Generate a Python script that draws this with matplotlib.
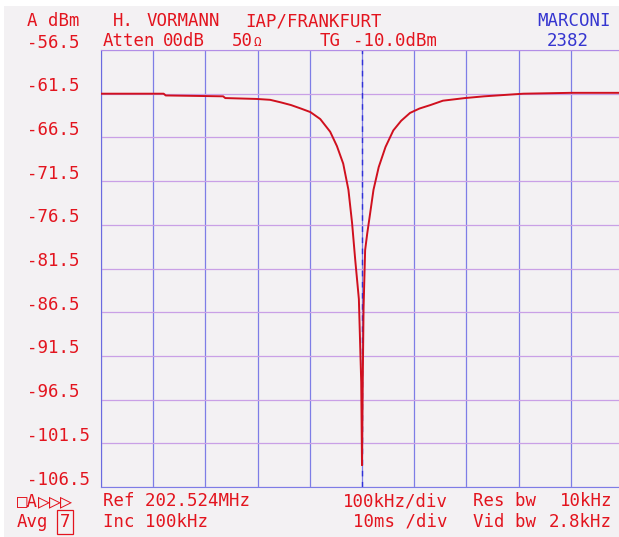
import matplotlib
matplotlib.use('Agg')
import matplotlib.pyplot as plt
from matplotlib.patches import Rectangle

# trace: offset from Ref (kHz) and level (dBm)
offset_khz = [-500, -380, -376, -266, -262, -202, -176, -155, -136, -117, -99,
              -80, -61, -48, -36, -26, -19, -13, -6, -1.5, 0,
              1.5, 3, 6, 10, 14.6, 22, 32, 45, 60, 75, 92, 110, 131, 155,
              197, 234, 309, 401, 500]
level_dbm = [-61.5, -61.5, -61.7, -61.8, -62.0, -62.1, -62.2, -62.5, -62.8, -63.2, -63.6,
             -64.4, -65.85, -67.5, -69.5, -72.5, -76.3, -80.5, -85.0, -94.5, -104.0,
             -94.0, -86.0, -79.4, -77.5, -75.6, -72.5, -69.9, -67.6, -65.7, -64.6, -63.7, -63.2, -62.8, -62.3,
             -62.0, -61.8, -61.5, -61.4, -61.4]

y_labels = ['-56.5', '-61.5', '-66.5', '-71.5', '-76.5', '-81.5', '-86.5',
            '-91.5', '-96.5', '-101.5', '-106.5']
y_values = [-56.5 - 5 * i for i in range(11)]

W, H = 619, 537
RED = '#e3141e'
BLUE = '#3535d0'
FONT = 'DejaVu Sans Mono'
FS = 12.5

fig = plt.figure(figsize=(W / 100, H / 100), dpi=100)
fig.patch.set_facecolor('white')
fig.patches.append(Rectangle((4 / W, 0), 1, 1 - 6 / H, transform=fig.transFigure,
                             facecolor='#f3f1f3', edgecolor='none', zorder=-10))

ax = fig.add_axes([101 / W, (H - 487) / H, 522 / W, 437 / H])
ax.set_facecolor('none')
ax.plot(offset_khz, level_dbm, color='#d0101e', lw=1.4, zorder=3)

ax.set_xlim(-500, 500)
ax.set_ylim(-106.5, -56.5)
ax.set_xticks(range(-500, 501, 100))
ax.set_yticks(y_values)
ax.tick_params(length=0, labelbottom=False, labelleft=False)
ax.xaxis.grid(True, color='#7d7de6', lw=0.9)
ax.yaxis.grid(True, color='#c9a0e6', lw=0.9)
ax.axvline(0, color='#3030d8', lw=1.0, ls=(0, (4, 4)), zorder=2)
ax.spines['left'].set_color('#6a6ae0')
ax.spines['top'].set_color('#b28ee6')
ax.spines['bottom'].set_color('#7d7de6')
ax.spines['right'].set_visible(False)


def txt(x, y, s, color=RED, ha='left', size=FS, **kw):
    fig.text(x / W, 1 - y / H, s, color=color, ha=ha, va='baseline',
             family=FONT, fontsize=size, **kw)


# y scale labels, baseline just above each grid line
for v, lab in zip(y_values, y_labels):
    ax.annotate(lab, xy=(27 / W, v), xycoords=('figure fraction', 'data'),
                xytext=(0, 2.5), textcoords='offset pixels', va='baseline',
                color=RED, family=FONT, fontsize=FS)

# header
txt(27, 26, 'A')
txt(48, 26, 'dBm')
txt(113, 26, 'H.')
txt(147, 26, 'VORMANN')
txt(245, 26, 'IAP/FRANKFURT')
txt(537, 26, 'MARCONI', color=BLUE)
txt(103, 46.5, 'Atten')
txt(163, 46.5, '00dB')
txt(232, 46.5, '50')
txt(253, 46.5, 'Ω', size=9)
txt(320, 46.5, 'TG')
txt(353, 46.5, '-10.0dBm')
txt(547, 46.5, '2382', color=BLUE)

# footer
txt(17, 506, '□A')
for px in (38, 49, 60):
    txt(px, 507, '▷', size=14.5)
txt(103, 506, 'Ref 202.524MHz')
txt(343, 506, '100kHz/div')
txt(473, 506, 'Res bw')
txt(612, 506, '10kHz', ha='right')
txt(17, 527, 'Avg')
txt(60, 527, '7', bbox=dict(boxstyle='square,pad=0.15', fc='none', ec=RED, lw=0.9))
txt(103, 527, 'Inc 100kHz')
txt(353, 527, '10ms /div')
txt(473, 527, 'Vid bw')
txt(612, 527, '2.8kHz', ha='right')

fig.savefig('out.png', dpi=100)
